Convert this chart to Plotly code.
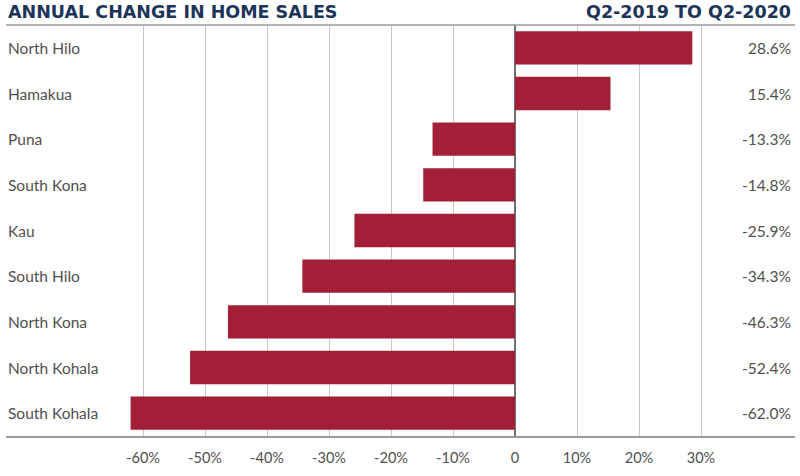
import plotly.graph_objects as go

regions = ["North Hilo", "Hamakua", "Puna", "South Kona", "Kau", "South Hilo",
           "North Kona", "North Kohala", "South Kohala"]
changes = [28.6, 15.4, -13.3, -14.8, -25.9, -34.3, -46.3, -52.4, -62.0]
tick_vals = [-60, -50, -40, -30, -20, -10, 0, 10, 20, 30]
tick_text = ["-60%", "-50%", "-40%", "-30%", "-20%", "-10%", "0", "10%", "20%", "30%"]
title_left = "ANNUAL CHANGE IN HOME SALES"
title_right = "Q2-2019 TO Q2-2020"

BAR = "#a31f37"
NAVY = "#1d3459"
GREY = "#505050"
FONT = "Lato"
TFONT = "DejaVu Sans"

fig = go.Figure()
fig.add_trace(go.Bar(
    x=changes, y=regions, orientation="h",
    marker=dict(color=BAR, line=dict(width=0)),
    hoverinfo="skip",
))

W, H = 800, 476
ml, mr, mt, mb = 6, 5, 25, 40
zero_px = 515
px_per_unit = 6.2
xmin = -(zero_px - ml) / px_per_unit
xmax = (W - mr - zero_px) / px_per_unit

annotations = []
for r, v in zip(regions, changes):
    annotations.append(dict(x=0, xref="paper", y=r, yref="y", text=r,
                            xanchor="left", showarrow=False,
                            font=dict(family=FONT, size=15.5, color=GREY)))
    annotations.append(dict(x=1, xref="paper", y=r, yref="y", text=f"{v:.1f}%",
                            xanchor="right", showarrow=False, xshift=-2,
                            font=dict(family=FONT, size=15.5, color=GREY)))
annotations.append(dict(x=0, xref="paper", y=1, yref="paper", yshift=1,
                        text=f"<b>{title_left}</b>", xanchor="left", yanchor="bottom",
                        showarrow=False, font=dict(family=TFONT, size=17.5, color=NAVY)))
annotations.append(dict(x=1, xref="paper", y=1, yref="paper", yshift=1, xshift=-2,
                        text=f"<b>{title_right}</b>", xanchor="right", yanchor="bottom",
                        showarrow=False, font=dict(family=TFONT, size=17.5, color=NAVY)))

fig.update_layout(
    width=W, height=H,
    margin=dict(l=ml, r=mr, t=mt, b=mb),
    plot_bgcolor="white", paper_bgcolor="white",
    bargap=0.27,
    showlegend=False,
    annotations=annotations,
    xaxis=dict(range=[xmin, xmax], tickvals=tick_vals, ticktext=tick_text,
               showgrid=True, gridcolor="#c8c8c8", gridwidth=1,
               zeroline=True, zerolinecolor="#6d7175", zerolinewidth=2,
               showline=True, linecolor="#9a9a9a", linewidth=1.5,
               ticks="", ticklabelstandoff=8,
               tickfont=dict(family=FONT, size=14.5, color=GREY),
               fixedrange=True),
    yaxis=dict(autorange="reversed", showticklabels=False, showgrid=False,
               zeroline=False, showline=False, fixedrange=True),
    shapes=[dict(type="line", xref="paper", yref="paper", x0=0, x1=1, y0=1, y1=1,
                 line=dict(color="#9a9a9a", width=1.5))],
)

fig.write_html("out.html", config={"displayModeBar": False},
               post_script="document.body.style.margin='0';")
